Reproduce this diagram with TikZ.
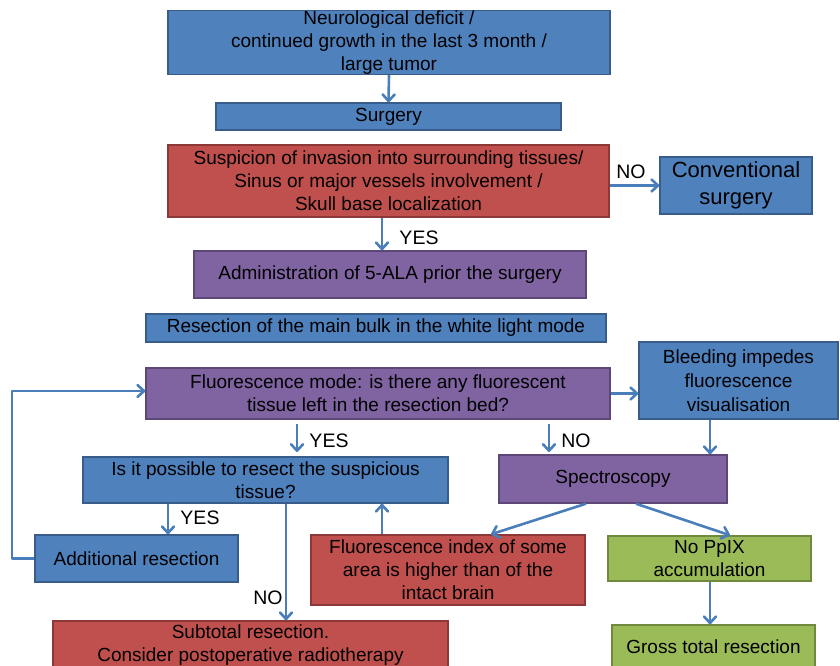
\documentclass[tikz,border=0pt]{standalone}
\usepackage{fontspec}
\setmainfont{Liberation Sans}
\usetikzlibrary{arrows.meta}
\definecolor{bfill}{HTML}{4F81BD}\definecolor{bdraw}{HTML}{385D8A}
\definecolor{rfill}{HTML}{C0504D}\definecolor{rdraw}{HTML}{8C3836}
\definecolor{pfill}{HTML}{8064A2}\definecolor{pdraw}{HTML}{5C4776}
\definecolor{gfill}{HTML}{9BBB59}\definecolor{gdraw}{HTML}{71893F}
\definecolor{arr}{HTML}{4A7EBB}
\tikzset{
  box/.style={draw, line width=1.4pt, inner sep=0pt, align=center, text=black,
    font=\fontsize{19}{23}\selectfont, yshift=0pt},
  bluebox/.style={box, fill=bfill, draw=bdraw},
  redbox/.style={box, fill=rfill, draw=rdraw},
  purplebox/.style={box, fill=pfill, draw=pdraw},
  greenbox/.style={box, fill=gfill, draw=gdraw},
  conn/.style={draw=arr, line width=2.6pt, line join=round,
    -{Straight Barb[length=6.5pt,width=12pt,line width=2.6pt,round]}},
  lbl/.style={font=\fontsize{19.5}{23}\selectfont, text=black, inner sep=0pt}
}
\begin{document}
\begin{tikzpicture}[x=1pt,y=-1pt]
\useasboundingbox (0,0) rectangle (840,665);
\clip (0,0) rectangle (840,665);
\fill[white] (0,0) rectangle (840,665);
\node[bluebox, minimum width=442pt, minimum height=63pt] (top) at (389,42.5)
  {\raisebox{-2pt}{Neurological deficit /}\\\raisebox{-2pt}{continued growth in the last 3 month /}\\\raisebox{-2pt}{large tumor}};
\node[bluebox, minimum width=345pt, minimum height=27pt] (surg) at (388.5,116.5) {\raisebox{-1pt}{Surgery}};
\node[redbox, minimum width=441pt, minimum height=72pt] (susp) at (388.5,181)
  {Suspicion of invasion into surrounding tissues/\\Sinus or major vessels involvement /\\Skull base localization};
\node[bluebox, minimum width=152pt, minimum height=57pt, font=\fontsize{22}{27}\selectfont] (conv) at (736,185.5)
  {Conventional\\surgery};
\node[purplebox, minimum width=392pt, minimum height=47pt] (admin) at (390,274.5)
  {\raisebox{-2pt}{Administration of 5-ALA prior the surgery}};
\node[bluebox, minimum width=460pt, minimum height=28pt] (bulk) at (376,328)
  {\raisebox{-1pt}{Resection of the main bulk in the white light mode}};
\node[purplebox, minimum width=464pt, minimum height=51pt] (fluo) at (378,393.5)
  {Fluorescence mode: is there any fluorescent\\tissue left in the resection bed?};
\node[bluebox, minimum width=199pt, minimum height=77pt, font=\fontsize{19}{24}\selectfont] (bleed) at (738.5,380.5)
  {Bleeding impedes\\fluorescence\\visualisation};
\node[bluebox, minimum width=365pt, minimum height=46pt] (poss) at (265.5,480)
  {Is it possible to resect the suspicious\\tissue?};
\node[purplebox, minimum width=228pt, minimum height=48pt] (spec) at (613,479) {\raisebox{-2pt}{Spectroscopy}};
\node[bluebox, minimum width=203pt, minimum height=47pt] (addl) at (136.5,558.5) {Additional resection};
\node[redbox, minimum width=274pt, minimum height=70pt] (findex) at (448,570)
  {Fluorescence index of some\\area is higher than of the\\intact brain};
\node[greenbox, minimum width=203pt, minimum height=45pt] (noppix) at (709.5,558.5) {No PpIX\\accumulation};
\node[redbox, minimum width=395pt, minimum height=48pt] (subt) at (250.5,645)
  {Subtotal resection.\\Consider postoperative radiotherapy};
\node[greenbox, minimum width=203pt, minimum height=44pt] (gross) at (713.5,647) {Gross total resection};

% connectors
\draw[conn] (top.south) -- (surg.north);
\draw[conn] (susp.east |- conv.west) -- (conv.west);
\draw[conn] (susp.south -| 382,0) -- (admin.north -| 382,0);
\draw[conn] (fluo.east) -- (bleed.west |- fluo.east);
\coordinate (fy1) at (297,424);
\coordinate (fy2) at (297,452);
\draw[conn] (fy1) -- (fy2);
\coordinate (fn1) at (549,424);
\coordinate (fn2) at (549,452);
\draw[conn] (fn1) -- (fn2);
\draw[conn] (bleed.south -| 710,0) -- (spec.north -| 710,0);
\draw[conn] (poss.south -| 168,0) -- (addl.north -| 168,0);
\draw[conn] (addl.west) -- (12,558.5) -- (12,391) -- (fluo.west |- 0,391);
\draw[conn] (poss.south -| 286,0) -- (subt.north -| 286,0);
\draw[conn] (findex.north -| 382,0) -- (poss.south -| 382,0);
\draw[conn] (spec.south -| 586,0) -- (findex.north -| 491,0);
\draw[conn] (spec.south -| 636,0) -- (noppix.north -| 730,0);
\draw[conn] (noppix.south -| 710,0) -- (gross.north -| 710,0);

% labels
\node[lbl] (lno1) at (631,172) {NO};
\node[lbl] (lyes1) at (419,238) {YES};
\node[lbl] (lyes2) at (329,441) {YES};
\node[lbl] (lno2) at (576,441) {NO};
\node[lbl] (lyes3) at (200,518) {YES};
\node[lbl] (lno3) at (268,598) {NO};
\end{tikzpicture}
\end{document}
